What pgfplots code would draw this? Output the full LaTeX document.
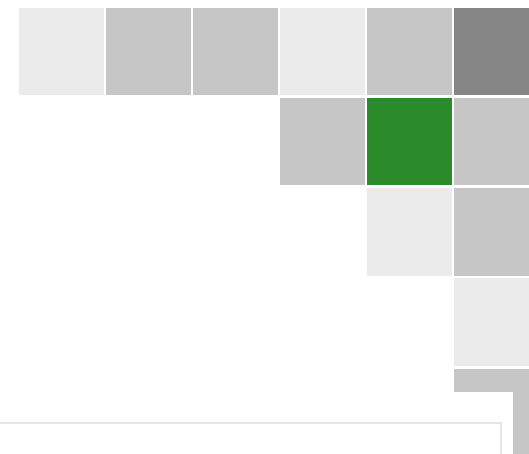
\documentclass[border=0pt]{standalone}
\usepackage{pgfplots}
\pgfplotsset{compat=1.18}
\definecolor{cBorder}{RGB}{229,229,229}
\begin{document}
\begin{tikzpicture}
\begin{axis}[
  width=529pt, height=453pt, scale only axis,
  hide axis,
  xmin=-0.7046, xmax=5.376,
  ymin=-0.5695, ymax=4.4499,
  y dir=reverse,
  colormap={cells}{rgb255=(255,255,255) rgb255=(235,235,235) rgb255=(197,198,197) rgb255=(134,134,134) rgb255=(43,139,43)},
  colormap access=direct,
]
\addplot[matrix plot*, mesh/cols=6, point meta=explicit] table[meta=c] {
x y c
0 0 1
1 0 2
2 0 2
3 0 1
4 0 2
5 0 3

0 1 0
1 1 0
2 1 0
3 1 2
4 1 4
5 1 2

0 2 0
1 2 0
2 2 0
3 2 0
4 2 1
5 2 2

0 3 0
1 3 0
2 3 0
3 3 0
4 3 0
5 3 1

0 4 0
1 4 0
2 4 0
3 4 0
4 4 0
5 4 2
};
\pgfplotsinvokeforeach{-0.5,0.5,1.5,2.5,3.5,4.5}{
  \draw[white, line width=2.1pt] (axis cs:#1,-0.7) -- (axis cs:#1,4.7);
}
\pgfplotsinvokeforeach{-0.5,0.5,1.5,2.5,3.5}{
  \draw[white, line width=2.8pt] (axis cs:-0.8,#1) -- (axis cs:5.5,#1);
}
\fill[white] (axis cs:4.45,3.774) rectangle (axis cs:5.189,4.7);
\draw[cBorder, fill=white, line width=2pt] (axis cs:-0.9,4.7) -- (axis cs:-0.9,4.118) -- (axis cs:5.054,4.118) -- (axis cs:5.054,4.7);
\end{axis}
\pgfresetboundingbox
\path[use as bounding box] (current axis.south west) rectangle (current axis.north east);
\end{tikzpicture}
\end{document}
